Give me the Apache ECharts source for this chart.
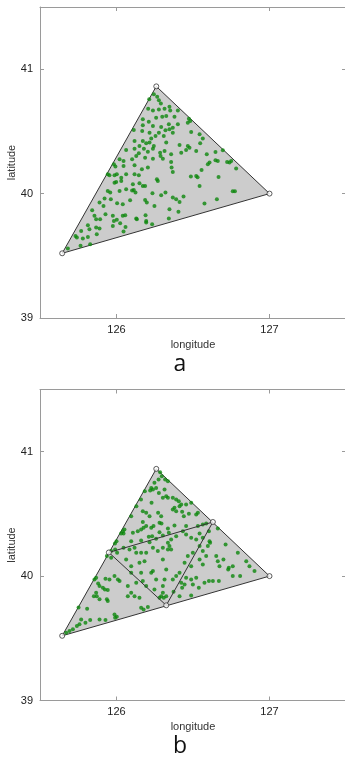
<!DOCTYPE html>
<html><head><meta charset="utf-8">
<script src="https://cdn.jsdelivr.net/npm/echarts@6/dist/echarts.min.js"></script>
<style>html,body{margin:0;padding:0;background:#fff}#c{width:345px;height:762px}</style>
</head><body><div id="c"></div>
<script>
// ---- data ----
const xTicks = [126, 127];
const yTicks = [39, 40, 41];
const panelLabels = ['a', 'b'];
const outerVerts = [[125.645, 39.52], [126.26, 40.862], [127.0, 40.0]];
const midVerts = [[125.95, 40.19], [126.63, 40.435], [126.325, 39.765]];

const pointsA = [
[126.244,40.798],[126.266,40.779],[126.277,40.750],[126.214,40.758],[126.290,40.725],
[126.207,40.683],[126.238,40.669],[126.277,40.677],[126.314,40.683],[126.346,40.699],
[126.351,40.669],[126.325,40.624],[126.299,40.618],[126.401,40.669],[126.259,40.610],
[126.172,40.597],[126.211,40.578],[126.379,40.618],[126.473,40.602],[126.482,40.584],
[126.466,40.570],[126.172,40.549],[126.238,40.543],[126.292,40.535],[126.342,40.557],
[126.368,40.530],[126.401,40.557],[126.346,40.517],[126.320,40.509],[126.277,40.490],
[126.216,40.490],[126.168,40.503],[126.113,40.511],[126.255,40.463],[126.309,40.463],
[126.368,40.490],[126.488,40.495],[126.543,40.477],[126.564,40.442],[126.227,40.442],
[126.118,40.423],[126.172,40.423],[126.194,40.404],[126.216,40.410],[126.244,40.383],
[126.150,40.383],[126.325,40.410],[126.412,40.391],[126.466,40.383],[126.477,40.369],
[126.547,40.404],[126.179,40.361],[126.063,40.351],[126.118,40.361],[126.146,40.324],
[126.205,40.337],[126.238,40.361],[126.285,40.329],[126.314,40.343],[126.288,40.303],
[126.357,40.316],[126.423,40.329],[126.455,40.351],[126.521,40.343],[126.590,40.316],
[126.647,40.335],[126.695,40.348],[126.020,40.276],[126.046,40.262],[126.102,40.276],
[126.129,40.303],[126.187,40.289],[126.238,40.281],[126.303,40.281],[126.357,40.254],
[126.608,40.249],[126.647,40.268],[126.662,40.262],[126.723,40.254],[126.739,40.249],
[126.750,40.262],[125.983,40.236],[125.993,40.217],[126.046,40.222],[126.118,40.228],
[126.166,40.195],[126.205,40.209],[126.360,40.209],[126.368,40.174],[126.556,40.190],
[126.597,40.236],[126.782,40.201],[125.943,40.155],[125.954,40.147],[125.987,40.147],
[126.002,40.155],[126.031,40.128],[126.063,40.155],[126.118,40.155],[126.146,40.147],
[126.270,40.102],[126.486,40.137],[126.521,40.142],[126.530,40.131],[126.667,40.134],
[125.987,40.088],[125.998,40.094],[126.031,40.102],[126.107,40.075],[126.150,40.083],
[126.172,40.062],[126.187,40.062],[126.124,40.008],[126.543,40.062],[126.264,40.115],
[125.943,40.021],[125.959,40.008],[126.020,40.021],[126.063,40.035],[126.102,40.024],
[126.113,40.029],[126.235,40.003],[126.292,39.987],[126.760,40.019],[126.774,40.019],
[126.320,40.008],[126.368,39.968],[126.390,39.954],[126.412,39.933],[126.438,39.976],
[126.575,39.920],[126.656,39.954],[125.922,39.960],[125.889,39.928],[125.915,39.901],
[125.963,39.954],[126.004,39.922],[126.041,39.914],[126.089,39.946],[126.187,39.949],
[126.198,39.928],[126.248,39.901],[126.346,39.874],[126.405,39.855],[125.841,39.866],
[125.856,39.821],[125.867,39.794],[125.893,39.794],[125.928,39.834],[125.976,39.821],
[126.002,39.789],[126.041,39.821],[126.057,39.826],[126.129,39.799],[126.190,39.826],
[126.194,39.780],[126.233,39.754],[126.342,39.799],[125.813,39.746],[125.823,39.714],
[125.867,39.727],[125.889,39.719],[125.976,39.740],[126.024,39.762],[126.059,39.732],
[126.133,39.794],[126.194,39.767],[125.732,39.660],[125.741,39.647],[125.769,39.700],
[125.780,39.639],[125.813,39.652],[125.871,39.673],[126.046,39.695],[125.983,39.780],
[125.682,39.558],[125.765,39.580],[125.828,39.592]
];

const pointsB = [
[126.285,40.835],[126.296,40.803],[126.318,40.776],[126.336,40.763],[126.275,40.776],
[126.248,40.750],[126.227,40.709],[126.238,40.696],[126.220,40.688],[126.259,40.709],
[126.277,40.669],[126.314,40.696],[126.325,40.642],[126.336,40.629],[126.303,40.629],
[126.368,40.629],[126.390,40.616],[126.407,40.602],[126.423,40.576],[126.412,40.562],
[126.379,40.549],[126.368,40.535],[126.390,40.522],[126.429,40.517],[126.440,40.482],
[126.455,40.576],[126.488,40.589],[126.521,40.495],[126.532,40.509],[126.473,40.501],
[126.185,40.683],[126.160,40.616],[126.229,40.589],[126.130,40.562],[126.096,40.482],
[126.172,40.522],[126.194,40.509],[126.216,40.482],[126.272,40.509],[126.292,40.482],
[126.281,40.428],[126.294,40.423],[126.242,40.402],[126.194,40.402],[126.177,40.388],
[126.227,40.388],[126.161,40.375],[126.139,40.361],[126.107,40.348],[126.052,40.375],
[126.041,40.361],[126.046,40.343],[126.000,40.281],[125.990,40.262],[125.991,40.214],
[126.096,40.281],[126.046,40.228],[126.118,40.228],[126.216,40.273],[126.233,40.321],
[126.259,40.300],[126.303,40.327],[126.342,40.348],[126.379,40.407],[126.434,40.361],
[126.455,40.402],[126.532,40.402],[126.564,40.415],[126.586,40.423],[126.336,40.383],
[126.281,40.353],[126.172,40.434],[126.211,40.316],[126.161,40.286],[125.965,40.201],
[126.030,40.343],
[126.004,40.187],[126.085,40.214],[126.129,40.187],[126.161,40.187],[126.194,40.187],
[126.238,40.228],[126.270,40.201],[126.303,40.228],[126.336,40.268],[126.357,40.294],
[126.346,40.241],[126.357,40.214],[126.336,40.214],[126.390,40.321],[126.455,40.335],
[126.488,40.308],[126.521,40.294],[126.543,40.343],[126.564,40.308],[126.543,40.241],
[126.586,40.161],[126.564,40.201],[126.499,40.187],[126.466,40.161],[126.445,40.107],
[126.412,40.027],[126.390,40.000],[126.368,39.973],[126.423,39.946],[126.445,39.933],
[126.488,39.973],[126.521,39.987],[126.543,40.134],[126.183,40.120],[126.150,40.107],
[126.161,40.027],[126.227,40.027],[126.238,40.040],[126.172,39.960],[126.194,39.920],
[126.248,39.893],[126.303,39.920],[126.292,39.839],[126.281,39.826],[126.309,39.826],
[126.325,39.839],[126.303,39.866],[126.259,39.973],[126.325,40.054],[126.303,40.134],
[126.063,40.134],[126.096,40.080],[126.314,39.973],
[126.662,40.383],[126.604,40.361],[126.608,40.281],[126.612,40.268],[126.597,40.241],
[126.652,40.161],[126.662,40.120],[126.699,40.134],[126.713,40.254],[126.730,40.054],
[126.734,40.067],[126.793,40.187],[126.848,40.120],[126.869,40.080],[126.902,40.040],
[126.808,40.000],[126.760,40.000],[126.630,39.960],[126.604,39.960],[126.669,39.960],
[126.575,39.946],[126.499,39.933],[126.455,39.987],[126.488,40.080],[126.564,40.094],
[126.429,39.906],[126.373,39.874],[126.412,39.839],[126.488,39.845],[126.538,39.906],
[126.760,40.080],[126.673,40.080],
[125.937,40.161],[125.965,40.147],[125.867,39.987],[125.856,39.973],[125.880,39.941],
[125.889,39.920],[125.911,39.906],[125.924,39.893],[125.943,39.888],[125.937,39.813],
[125.943,39.799],[125.867,39.866],[125.871,39.839],[125.889,39.813],[125.852,39.839],
[125.928,39.979],[125.954,39.973],[125.987,40.000],[126.009,39.973],[126.020,39.960],
[126.074,39.920],[126.096,39.866],[126.118,39.839],[126.150,39.826],[126.129,39.946],
[126.096,40.027],[126.161,39.746],[126.177,39.732],[126.205,39.751],[125.987,39.692],
[125.991,39.665],[126.002,39.673],[125.928,39.647],[125.889,39.652],[125.828,39.647],
[125.769,39.652],[125.758,39.612],[125.741,39.598],[125.797,39.625],[125.808,39.738],
[125.752,39.748],[125.715,39.572],[125.693,39.558],[125.671,39.545],[126.074,39.839]
];

// ---- chart ----
const gridTops = [7, 389.5];
const GRID_H = 311;
const XMIN = 125.5, XMAX = 127.5, YMIN = 39, YMAX = 41.5;
const axisColor = '#9a9a9a';
const font = 'Arial, "Liberation Sans", sans-serif';

const grids = [], xAxes = [], yAxes = [], series = [], graphics = [];

function xAx(g, pos, main) {
  return {
    gridIndex: g, type: 'value', min: XMIN, max: XMAX, position: pos,
    axisLine: {show: true, onZero: false, lineStyle: {color: axisColor, width: 1}},
    axisTick: {show: true, inside: true, length: 4, customValues: xTicks, lineStyle: {color: axisColor}},
    axisLabel: main ? {show: true, customValues: xTicks, color: '#222', fontSize: 11, fontFamily: font, margin: 6} : {show: false},
    splitLine: {show: false},
    name: main ? 'longitude' : '', nameLocation: 'middle', nameGap: 21, nameMoveOverlap: false,
    nameTextStyle: {color: '#333', fontSize: 11, fontFamily: font}
  };
}
function yAx(g, pos, main) {
  return {
    gridIndex: g, type: 'value', min: YMIN, max: YMAX, position: pos,
    axisLine: {show: true, onZero: false, lineStyle: {color: axisColor, width: 1}},
    axisTick: {show: true, inside: true, length: 4, customValues: yTicks, lineStyle: {color: axisColor}},
    axisLabel: main ? {show: true, customValues: yTicks, color: '#222', fontSize: 11, fontFamily: font, margin: 7} : {show: false},
    splitLine: {show: false},
    name: main ? 'latitude' : '', nameLocation: 'middle', nameGap: 23, nameMoveOverlap: false,
    nameTextStyle: {color: '#333', fontSize: 11, fontFamily: font}
  };
}

function polySeries(g, verts, fill) {
  return {
    type: 'custom', xAxisIndex: g * 2, yAxisIndex: g * 2, data: verts, z: fill ? 1 : 3,
    clip: false,
    renderItem: function (params, api) {
      if (params.dataIndex !== 0) return null;
      const pts = verts.map(v => api.coord(v));
      return {
        type: 'polygon', shape: {points: pts},
        style: {fill: fill ? '#cccccc' : 'none', stroke: '#333', lineWidth: 1}
      };
    }
  };
}

const panelPoints = [pointsA, pointsB];
for (let g = 0; g < 2; g++) {
  grids.push({left: 40, top: gridTops[g], width: 306, height: GRID_H, outerBoundsMode: 'none', containLabel: false});
  xAxes.push(xAx(g, 'bottom', true), xAx(g, 'top', false));
  yAxes.push(yAx(g, 'left', true), yAx(g, 'right', false));
  series.push(polySeries(g, outerVerts, true));
  if (g === 1) series.push(polySeries(g, midVerts, false));
  series.push({
    type: 'scatter', xAxisIndex: g * 2, yAxisIndex: g * 2, data: panelPoints[g],
    symbol: 'circle', symbolSize: 4, itemStyle: {color: '#0c870c'}, z: 2, silent: true
  });
  const vdata = g === 0 ? outerVerts : outerVerts.concat(midVerts);
  series.push({
    type: 'scatter', xAxisIndex: g * 2, yAxisIndex: g * 2, data: vdata,
    symbol: 'circle', symbolSize: 5, z: 4,
    itemStyle: {color: '#fff', borderColor: '#333', borderWidth: 1}
  });
  graphics.push({
    type: 'text', x: 180, y: gridTops[g] + GRID_H + 46,
    style: {text: panelLabels[g], fontSize: 23, fontFamily: '"Open Sans", "Noto Sans", sans-serif', fill: '#111',
      textAlign: 'center', textVerticalAlign: 'middle'}
  });
}

const chart = echarts.init(document.getElementById('c'), null, {renderer: 'canvas'});
chart.setOption({
  animation: false,
  grid: grids, xAxis: xAxes, yAxis: yAxes, series: series, graphic: graphics
});
</script></body></html>
